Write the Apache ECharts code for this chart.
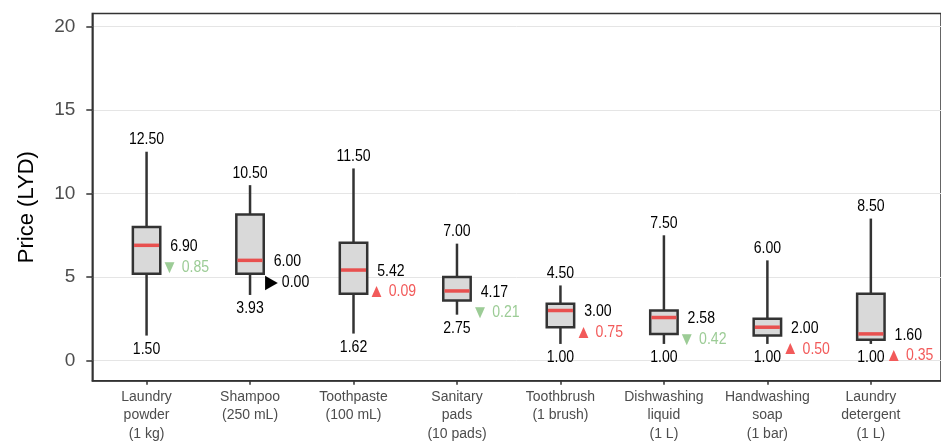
<!DOCTYPE html>
<html>
<head>
<meta charset="utf-8">
<script src="https://cdn.jsdelivr.net/npm/echarts@6/dist/echarts.min.js"></script>
<style>
html,body{margin:0;padding:0;background:#fff;}
#chart{width:941px;height:445px;}
</style>
</head>
<body>
<div id="chart"></div>
<script>
const categories = ['Laundry\npowder\n(1 kg)', 'Shampoo\n(250 mL)', 'Toothpaste\n(100 mL)', 'Sanitary\npads\n(10 pads)', 'Toothbrush\n(1 brush)', 'Dishwashing\nliquid\n(1 L)', 'Handwashing\nsoap\n(1 bar)', 'Laundry\ndetergent\n(1 L)'];
const minValues = [1.50, 3.93, 1.62, 2.75, 1.00, 1.00, 1.00, 1.00];
const q1Values = [5.20, 5.20, 4.00, 3.60, 2.00, 1.60, 1.50, 1.25];
const medianValues = [6.90, 6.00, 5.42, 4.17, 3.00, 2.58, 2.00, 1.60];
const q3Values = [8.00, 8.75, 7.05, 5.00, 3.40, 3.00, 2.50, 4.00];
const maxValues = [12.50, 10.50, 11.50, 7.00, 4.50, 7.50, 6.00, 8.50];
const changeValues = [0.85, 0.00, 0.09, 0.21, 0.75, 0.42, 0.50, 0.35];
const changeDirections = ['down', 'flat', 'up', 'down', 'up', 'down', 'up', 'up'];
const yTicks = [0, 5, 10, 15, 20];

const FONT = "'Liberation Sans', Arial, sans-serif";
const dirStyle = {
  up: { sym: '\u25B2', color: '#f25a5a' },
  down: { sym: '\u25BC', color: '#9ccc96' },
  flat: { sym: '\u25B6', color: '#000000' }
};

const data = categories.map((c, i) => [i, minValues[i], q1Values[i], medianValues[i], q3Values[i], maxValues[i], changeValues[i]]);

function label(text, px, py, align, color, rich) {
  const style = { text: text, x: 0, y: 0, align: align, verticalAlign: 'middle', fill: color, fontSize: 16, fontFamily: FONT };
  if (rich) style.rich = rich;
  return { type: 'text', x: px, y: py, scaleX: 0.88, scaleY: 1, style: style };
}

function renderItem(params, api) {
  const i = api.value(0);
  const pMin = api.coord([i, api.value(1)]);
  const pQ1 = api.coord([i, api.value(2)]);
  const pMed = api.coord([i, api.value(3)]);
  const pQ3 = api.coord([i, api.value(4)]);
  const pMax = api.coord([i, api.value(5)]);
  const bw = api.size([0.265, 0])[0];
  const x = pMed[0];
  const left = x - bw / 2, right = x + bw / 2;
  const d = dirStyle[changeDirections[i]];
  const rich = {
    s: { fontSize: 19, fill: d.color, fontFamily: FONT, verticalAlign: 'middle' },
    n: { fontSize: 16, fill: d.color, fontFamily: FONT, verticalAlign: 'middle' }
  };
  return {
    type: 'group',
    children: [
      { type: 'line', shape: { x1: x, y1: pMin[1], x2: x, y2: pMax[1] }, style: { stroke: '#333333', lineWidth: 2.5 } },
      { type: 'rect', shape: { x: left, y: pQ3[1], width: bw, height: pQ1[1] - pQ3[1] }, style: { fill: '#d9d9d9', stroke: '#333333', lineWidth: 2.5 } },
      { type: 'line', shape: { x1: left + 1.2, y1: pMed[1], x2: right - 1.2, y2: pMed[1] }, style: { stroke: '#e8504f', lineWidth: 3.5 } },
      label(api.value(5).toFixed(2), x, pMax[1] - 12, 'center', '#000'),
      label(api.value(1).toFixed(2), x, pMin[1] + 14, 'center', '#000'),
      label(api.value(3).toFixed(2), right + 10, pMed[1] + 1.5, 'left', '#000'),
      label('{s|' + d.sym + '} {n|' + api.value(6).toFixed(2) + '}', right + 1, pMed[1] + 22, 'left', d.color, rich)
    ]
  };
}

const chart = echarts.init(document.getElementById('chart'));
chart.setOption({
  animation: false,
  backgroundColor: '#ffffff',
  grid: { left: 92.3, right: -2, top: 13.5, bottom: 64.3, show: true, borderColor: '#333333', borderWidth: 1.5, containLabel: false },
  xAxis: {
    type: 'value',
    min: -0.5245,
    max: 7.678,
    axisLine: { show: true, onZero: false, lineStyle: { color: '#333333', width: 1.5 } },
    axisTick: { show: true, length: 4, lineStyle: { color: '#333333', width: 1.5 }, customValues: categories.map((c, i) => i) },
    axisLabel: {
      customValues: categories.map((c, i) => i),
      formatter: v => categories[Math.round(v)] || '',
      color: '#4d4d4d', fontSize: 14, lineHeight: 18.5, margin: 7, fontFamily: FONT
    },
    splitLine: { show: false }
  },
  yAxis: {
    type: 'value',
    min: -1.2,
    max: 20.77,
    name: 'Price (LYD)',
    nameLocation: 'middle',
    nameGap: 54,
    nameTextStyle: { color: '#000', fontSize: 22, fontFamily: FONT, padding: [0, 20, 0, 0] },
    axisLine: { show: true, onZero: false, lineStyle: { color: '#333333', width: 1.5 } },
    axisTick: { show: true, length: 6, lineStyle: { color: '#333333', width: 1.5 }, customValues: yTicks },
    axisLabel: { customValues: yTicks, color: '#4d4d4d', fontSize: 19, margin: 17, fontFamily: FONT },
    splitLine: { show: true, lineStyle: { color: '#e5e5e5', width: 1 } }
  },
  series: [{
    type: 'custom',
    renderItem: renderItem,
    data: data,
    encode: { x: 0, y: [1, 5] },
    clip: false
  }]
});
</script>
</body>
</html>
